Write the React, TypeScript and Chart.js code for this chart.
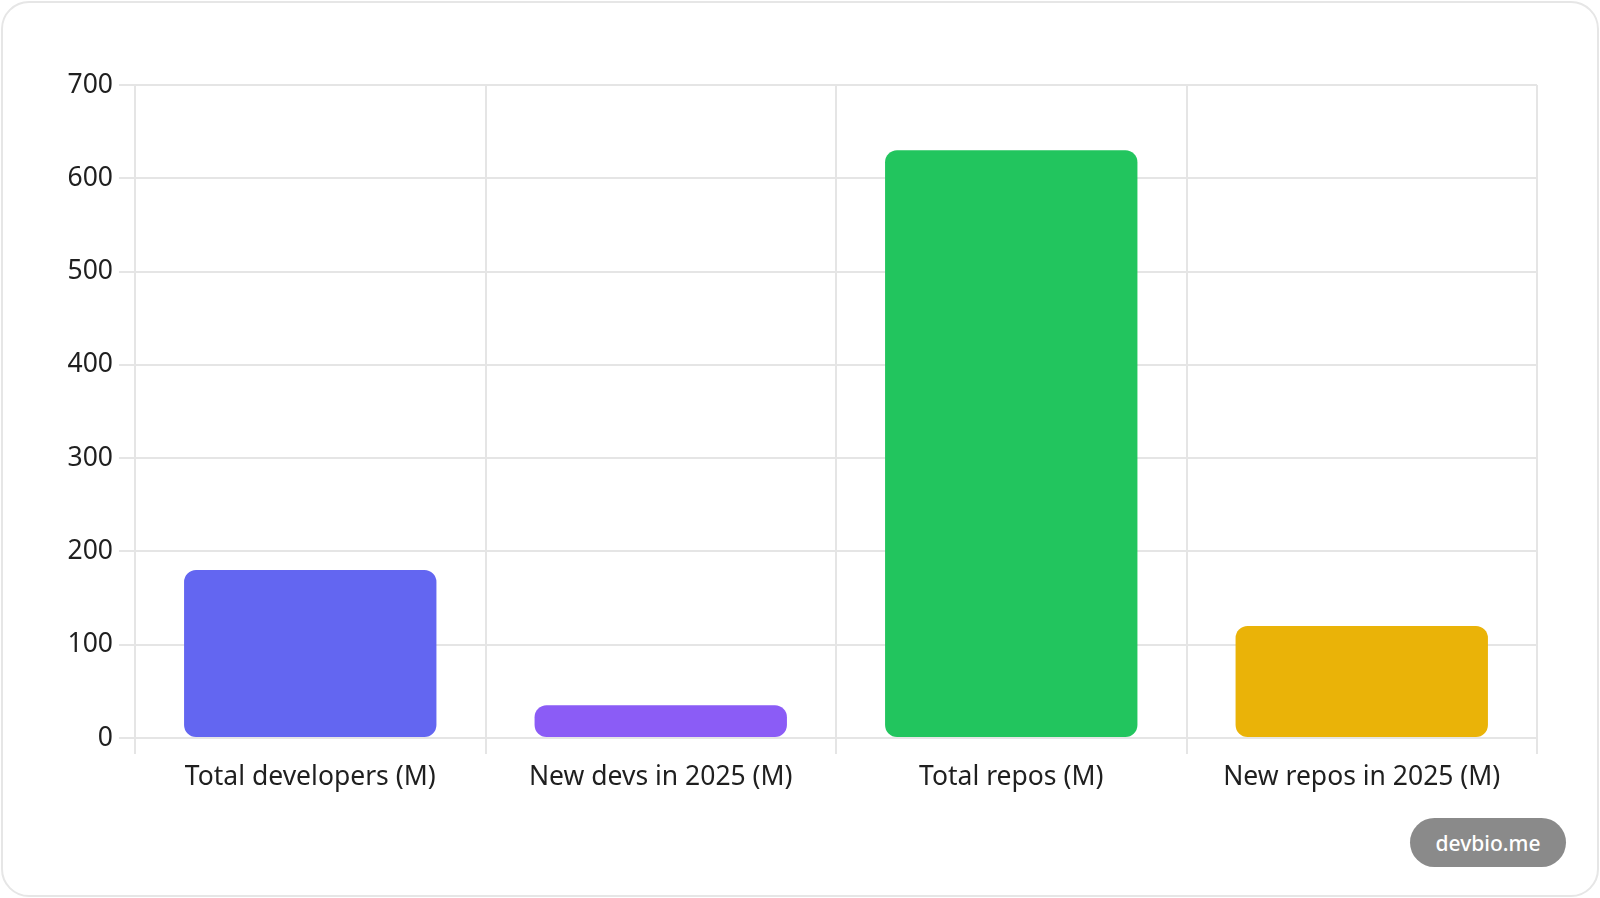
import React, { useEffect, useRef } from "react";
import { Chart, registerables } from "chart.js";

Chart.register(...registerables);

const categories = [
  "Total developers (M)",
  "New devs in 2025 (M)",
  "Total repos (M)",
  "New repos in 2025 (M)",
];
const values = [180, 35, 630, 120];
const barColors = ["#6366f1", "#8b5cf6", "#22c55e", "#eab308"];

const FONT = "'Noto Sans', sans-serif";
const TEXT = "#1f1f1f";
const GRID = "#e5e5e5";

export default function App() {
  const chartRef = useRef<HTMLCanvasElement | null>(null);
  const chartInstance = useRef<Chart | null>(null);

  useEffect(() => {
    if (!chartRef.current) return;
    const ctx = chartRef.current.getContext("2d");
    if (!ctx) return;

    chartInstance.current = new Chart(ctx, {
      type: "bar",
      data: {
        labels: categories,
        datasets: [
          {
            data: values,
            backgroundColor: barColors,
            borderRadius: 12,
            borderSkipped: false,
          },
        ],
      },
      options: {
        animation: false,
        responsive: true,
        maintainAspectRatio: false,
        layout: { padding: { top: 25, right: 8, left: 0, bottom: 0 } },
        plugins: {
          legend: { display: false },
          tooltip: { enabled: false },
        },
        scales: {
          x: {
            grid: { color: GRID, tickLength: 16, lineWidth: 2 },
            border: { color: GRID, width: 2 },
            ticks: {
              color: TEXT,
              padding: 8,
              font: { family: FONT, size: 26.5 },
            },
            afterFit: (scale) => {
              scale.height = 62;
            },
          },
          y: {
            min: 0,
            max: 700,
            grid: { color: GRID, tickLength: 16, lineWidth: 2 },
            border: { color: GRID, width: 2 },
            ticks: {
              stepSize: 100,
              color: TEXT,
              padding: 6,
              font: { family: FONT, size: 26.5 },
            },
            afterFit: (scale) => {
              scale.width = 75;
            },
          },
        },
      },
    });

    return () => {
      if (chartInstance.current) {
        chartInstance.current.destroy();
        chartInstance.current = null;
      }
    };
  }, []);

  return (
    <div style={{ position: "fixed", inset: 0, background: "#ffffff" }}>
      <div
        style={{
          position: "absolute",
          left: 1,
          top: 1,
          width: 1594,
          height: 892,
          border: "2px solid #e6e6e6",
          borderRadius: 28,
          background: "#ffffff",
        }}
      />
      <div
        style={{
          position: "absolute",
          left: 60,
          top: 60,
          width: 1485,
          height: 740,
        }}
      >
        <canvas ref={chartRef} />
      </div>
      <div
        style={{
          position: "absolute",
          left: 1410,
          top: 818,
          width: 156,
          height: 49,
          borderRadius: 25,
          background: "#8a8a8a",
          color: "#ffffff",
          fontFamily: FONT,
          fontWeight: 500,
          fontSize: 21,
          display: "flex",
          alignItems: "center",
          justifyContent: "center",
        }}
      >
        devbio.me
      </div>
    </div>
  );
}
